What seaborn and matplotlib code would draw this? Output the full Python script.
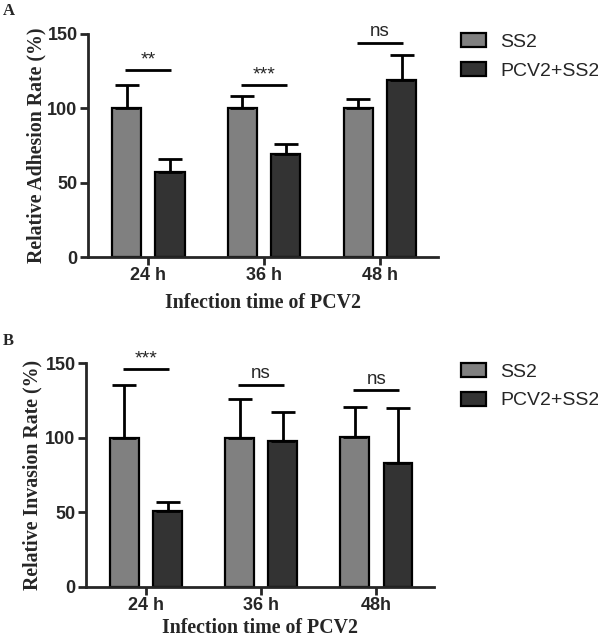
import matplotlib.pyplot as plt
import pandas as pd
import seaborn as sns
from matplotlib.patches import Patch

# Groups and colours
groups = ['SS2', 'PCV2+SS2']
colors = ['#808080', '#333333']

# Panel A: adhesion
times_a = ['24 h', '36 h', '48 h']
adh_ss2 = [100, 100, 100]
adh_ss2_err = [16, 8, 6.5]
adh_pcv2 = [57, 69.3, 118.8]
adh_pcv2_err = [9, 6.5, 17]
sig_a = ['**', '***', 'ns']
sig_a_y = [126, 116, 143.7]

# Panel B: invasion
times_b = ['24 h', '36 h', '48h']
inv_ss2 = [100, 100, 100.3]
inv_ss2_err = [35.2, 25.6, 20]
inv_pcv2 = [50.8, 98.1, 82.8]
inv_pcv2_err = [6.3, 19, 37.4]
sig_b = ['***', 'ns', 'ns']
sig_b_y = [146, 135.4, 131.6]

sns.set_style('ticks')
plt.rcParams['font.family'] = ['Liberation Sans', 'DejaVu Sans']

SERIF = 'Liberation Serif'


def draw_panel(ax, times, ss2, ss2_err, pcv2, pcv2_err, sig, sig_y, ylabel,
               ylab_x, xlab_y):
    df = pd.DataFrame({
        'time': times * 2,
        'value': ss2 + pcv2,
        'group': [groups[0]] * len(times) + [groups[1]] * len(times),
    })
    sns.barplot(data=df, x='time', y='value', hue='group', ax=ax,
                palette=dict(zip(groups, colors)), width=0.75, gap=0.33,
                edgecolor='black', linewidth=1.6, errorbar=None, legend=False)

    # upper-only error bars (GraphPad style)
    for cont, err in zip(ax.containers, [ss2_err, pcv2_err]):
        xs = [b.get_x() + b.get_width() / 2 for b in cont]
        ys = [b.get_height() for b in cont]
        ax.errorbar(xs, ys, yerr=[[0] * len(err), err], fmt='none',
                    ecolor='black', elinewidth=2, capsize=8.5, capthick=2, zorder=5)

    # significance lines
    for i, (s, y) in enumerate(zip(sig, sig_y)):
        ax.plot([i - 0.2, i + 0.2], [y, y], color='black', lw=2, solid_capstyle='butt')
        if s == 'ns':
            ax.text(i, y + 2, s, ha='center', va='bottom', fontsize=13.5)
        else:
            ax.text(i, y + 1, s, ha='center', va='bottom', fontsize=14)

    ax.set_ylim(0, 150)
    ax.set_yticks([0, 50, 100, 150])
    ax.set_xlim(-0.52, 2.5)
    sns.despine(ax=ax)
    for sp in ['left', 'bottom']:
        ax.spines[sp].set_linewidth(2)
    ax.tick_params(width=2, length=6, pad=1.5)
    for lab in ax.get_xticklabels() + ax.get_yticklabels():
        lab.set_fontweight('bold')
        lab.set_fontsize(13)
    ax.set_xlabel('Infection time of PCV2', family=SERIF, fontweight='bold',
                  fontsize=14.3)
    ax.set_ylabel(ylabel, family=SERIF, fontweight='bold', fontsize=14.3)
    ax.yaxis.set_label_coords(ylab_x, 0.5)
    ax.xaxis.set_label_coords(0.5, xlab_y)


fig = plt.figure(figsize=(5.98, 6.39), dpi=100)
ax_a = fig.add_axes([0.1472, 0.5978, 0.585, 0.349])
ax_b = fig.add_axes([0.1438, 0.0814, 0.582, 0.3505])

draw_panel(ax_a, times_a, adh_ss2, adh_ss2_err, adh_pcv2, adh_pcv2_err,
           sig_a, sig_a_y, 'Relative Adhesion Rate (%)', -0.12, -0.16)
draw_panel(ax_b, times_b, inv_ss2, inv_ss2_err, inv_pcv2, inv_pcv2_err,
           sig_b, sig_b_y, 'Relative Invasion Rate (%)', -0.124, -0.14)

handles = [Patch(facecolor=c, edgecolor='black', linewidth=1.6) for c in colors]
for top in [0.948, 0.432]:
    fig.legend(handles, groups, loc='upper left', bbox_to_anchor=(0.771, top),
               bbox_transform=fig.transFigure, frameon=False, fontsize=14,
               handlelength=1.3, handleheight=0.75, handletextpad=0.7,
               labelspacing=0.55, borderpad=0, borderaxespad=0)

fig.text(0.005, 0.995, 'A', family=SERIF, fontweight='bold', fontsize=12, va='top')
fig.text(0.005, 0.479, 'B', family=SERIF, fontweight='bold', fontsize=12, va='top')

fig.savefig('out.png', dpi=100)
